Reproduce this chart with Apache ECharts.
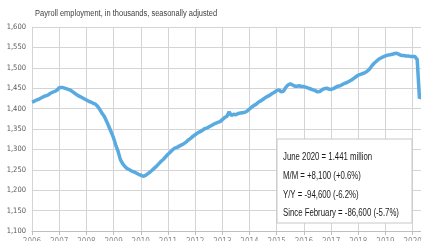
<!DOCTYPE html>
<html>
<head>
<meta charset="utf-8">
<script src="https://cdn.jsdelivr.net/npm/echarts@6/dist/echarts.min.js"></script>
<style>
  html, body { margin: 0; padding: 0; background: #fff; overflow: hidden; }
  #chart { width: 421px; height: 241px; }
</style>
</head>
<body>
<div id="chart"></div>
<script>
// monthly payroll employment, thousands, Jan 2006 - Jun 2020
const years = [2006, 2007, 2008, 2009, 2010, 2011, 2012, 2013, 2014, 2015, 2016, 2017, 2018, 2019, 2020];

const jobs2006 = [1416, 1418, 1421, 1423, 1426, 1429, 1431, 1433, 1437, 1440, 1442, 1445];
const jobs2007 = [1451, 1452, 1451, 1449, 1447, 1445, 1441, 1437, 1433, 1430, 1427, 1424];
const jobs2008 = [1421, 1418, 1416, 1413, 1411, 1405, 1397, 1388, 1380, 1368, 1355, 1342];
const jobs2009 = [1328, 1310, 1295, 1275, 1265, 1258, 1253, 1250, 1247, 1245, 1242, 1239];
const jobs2010 = [1237, 1234, 1236, 1240, 1244, 1249, 1254, 1259, 1265, 1271, 1276, 1282];
const jobs2011 = [1288, 1293, 1299, 1303, 1305, 1308, 1311, 1314, 1318, 1323, 1327, 1332];
const jobs2012 = [1336, 1340, 1343, 1346, 1350, 1352, 1355, 1358, 1361, 1364, 1366, 1368];
const jobs2013 = [1373, 1378, 1381, 1392, 1383, 1386, 1385, 1388, 1389, 1390, 1391, 1394];
const jobs2014 = [1399, 1404, 1408, 1411, 1416, 1419, 1423, 1427, 1430, 1433, 1437, 1440];
const jobs2015 = [1444, 1446, 1441, 1443, 1452, 1458, 1461, 1458, 1455, 1455, 1456, 1454];
const jobs2016 = [1454, 1452, 1450, 1448, 1446, 1444, 1441, 1442, 1446, 1449, 1450, 1448];
const jobs2017 = [1447, 1449, 1452, 1455, 1456, 1459, 1462, 1464, 1467, 1470, 1474, 1478];
const jobs2018 = [1482, 1484, 1486, 1488, 1492, 1497, 1505, 1511, 1516, 1521, 1524, 1527];
const jobs2019 = [1529, 1531, 1532, 1533, 1535, 1535.6, 1533, 1530, 1530, 1529, 1529, 1528];
const jobs2020 = [1528, 1527.6, 1520, 1425, 1432.9, 1441];

const yTicks = [1100, 1150, 1200, 1250, 1300, 1350, 1400, 1450, 1500, 1550, 1600];

const noteLines = [
  "June 2020 = 1.441 million",
  "M/M = +8,100 (+0.6%)",
  "Y/Y = -94,600 (-6.2%)",
  "Since February = -86,600 (-5.7%)"
];

const values = [].concat(jobs2006, jobs2007, jobs2008, jobs2009, jobs2010, jobs2011, jobs2012,
  jobs2013, jobs2014, jobs2015, jobs2016, jobs2017, jobs2018, jobs2019, jobs2020);

const months = [];
for (let i = 0; i < values.length; i++) {
  const y = years[Math.floor(i / 12)];
  months.push(y + "-" + String((i % 12) + 1).padStart(2, "0"));
}

const narrow = "'Liberation Sans Narrow', 'DejaVu Sans Condensed', sans-serif";
const plain = "'Liberation Sans', Arial, sans-serif";
const gridColor = "#d4d4d4";

const chart = echarts.init(document.getElementById("chart"));

chart.setOption({
  animation: false,
  grid: { left: 32, right: -3, top: 27, bottom: 10, outerBoundsMode: "none", containLabel: false },
  xAxis: {
    type: "category",
    data: months,
    boundaryGap: false,
    axisLine: { lineStyle: { color: "#bfbfbf" } },
    axisTick: {
      show: true,
      length: 4,
      interval: (idx) => idx % 12 === 0,
      lineStyle: { color: "#bfbfbf" }
    },
    axisLabel: {
      interval: (idx) => idx % 12 === 0,
      formatter: (v) => v.slice(0, 4),
      fontFamily: narrow,
      fontSize: 8,
      color: "#8c8c8c",
      margin: 7
    },
    splitLine: {
      show: true,
      interval: (idx) => idx % 12 === 0,
      lineStyle: { color: gridColor, width: 1 }
    }
  },
  yAxis: {
    type: "value",
    min: yTicks[0],
    max: yTicks[yTicks.length - 1],
    interval: 50,
    axisLine: { show: true, lineStyle: { color: gridColor } },
    axisTick: { show: false },
    axisLabel: {
      formatter: (v) => v.toLocaleString("en-US"),
      fontFamily: narrow,
      fontSize: 7.5,
      color: "#595959",
      margin: 6
    },
    splitLine: { lineStyle: { color: gridColor, width: 1 } }
  },
  series: [
    {
      type: "line",
      data: values,
      showSymbol: false,
      lineStyle: { color: "#5aaae2", width: 3.5 },
      z: 3
    }
  ],
  graphic: [
    {
      type: "text",
      left: 35,
      top: 9,
      scaleX: 0.88,
      style: {
        text: "Payroll employment, in thousands, seasonally adjusted",
        fontFamily: plain,
        fontSize: 8.5,
        fill: "#404040"
      }
    },
    {
      type: "rect",
      z: 100,
      shape: { x: 277, y: 139, width: 135, height: 84 },
      style: { fill: "#ffffff", stroke: "#c8c8c8", lineWidth: 1 }
    },
    {
      type: "text",
      z: 101,
      x: 283,
      y: 148,
      scaleX: 0.78,
      style: {
        text: noteLines.join("\n"),
        fontFamily: plain,
        fontSize: 10,
        lineHeight: 18.7,
        fill: "#1a1a1a"
      }
    }
  ]
});
</script>
</body>
</html>
